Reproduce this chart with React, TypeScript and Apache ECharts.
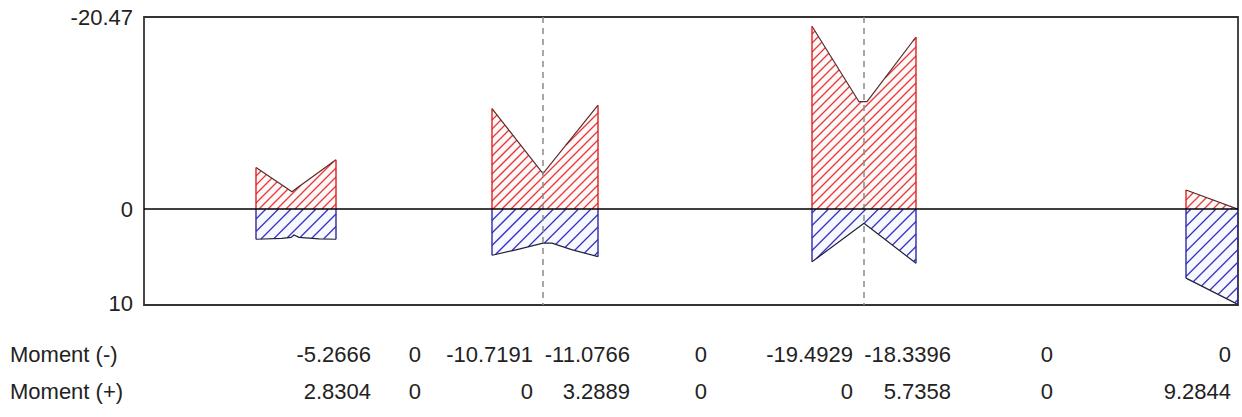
import React, { useEffect, useRef } from 'react';
import * as echarts from 'echarts';

// Axis ranges (beam position units, moment units; axis is inverted: negative up)
const X_MIN = 0;
const X_MAX = 21.88;
const Y_MIN = -20.47;
const Y_MAX = 10.2;
const yTickValues = [-20.47, 0, 10];

// Internal supports (dashed lines)
const supportPositions = [7.98, 14.4];

// Negative moment envelopes [position, moment]
const seg1Neg = [[2.24, -4.45], [2.96, -1.85], [3.06, -2.25], [3.84, -5.27]];
const seg2Neg = [[6.96, -10.72], [7.98, -3.8], [9.08, -11.08]];
const seg3Neg = [[13.36, -19.49], [14.3, -11.45], [14.46, -11.45], [15.44, -18.34]];
const seg4Neg = [[20.84, -2.05], [21.88, 0]];

// Positive moment envelopes [position, moment]
const seg1Pos = [[2.24, 3.2], [2.76, 3.1], [2.94, 3.0], [3.0, 2.75], [3.1, 3.0], [3.5, 3.15], [3.84, 3.2]];
const seg2Pos = [[6.96, 4.9], [7.46, 4.3], [7.98, 3.62], [8.16, 3.62], [8.55, 4.3], [9.08, 5.05]];
const seg3Pos = [[13.36, 5.6], [14.4, 1.5], [15.44, 5.75]];
const seg4Pos = [[20.84, 7.34], [21.88, 10.15]];

const negativeEnvelopes = [seg1Neg, seg2Neg, seg3Neg, seg4Neg];
const positiveEnvelopes = [seg1Pos, seg2Pos, seg3Pos, seg4Pos];

// Table
const tableRowLabels = ['Moment (-)', 'Moment (+)'];
const momentNegRow = ['-5.2666', '0', '-10.7191', '-11.0766', '0', '-19.4929', '-18.3396', '0', '0'];
const momentPosRow = ['2.8304', '0', '0', '3.2889', '0', '0', '5.7358', '0', '9.2844'];

// Layout (pixels)
const tableColRight = [371, 421, 533, 630, 707, 853, 951, 1053, 1231];
const tableRowY = [354, 391];
const FONT = '"Liberation Sans", Arial, sans-serif';
const FONT_SIZE = 22;

function makeRenderItem(envelopes: number[][][], lineColor: string, edgeColor: string, outlineColor: string, tint: string, spacing: number) {
  return (params: any, api: any) => {
    const env = envelopes[params.dataIndex];
    const pts = env.map((p) => api.coord([p[0], p[1]]));
    const zeroY = api.coord([env[0][0], 0])[1];
    const x0 = pts[0][0];
    const x1 = pts[pts.length - 1][0];
    const f = (x: number) => {
      for (let i = 0; i < pts.length - 1; i++) {
        const a = pts[i], b = pts[i + 1];
        if (x >= a[0] && x <= b[0]) {
          const t = b[0] === a[0] ? 0 : (x - a[0]) / (b[0] - a[0]);
          return a[1] + t * (b[1] - a[1]);
        }
      }
      return pts[pts.length - 1][1];
    };
    const children: any[] = [];
    const poly = [[x0, zeroY], ...pts, [x1, zeroY]];
    children.push({ type: 'polygon', shape: { points: poly }, style: { fill: tint, stroke: 'none' } });
    let yMin = zeroY, yMax = zeroY;
    pts.forEach((p) => { yMin = Math.min(yMin, p[1]); yMax = Math.max(yMax, p[1]); });
    const cStart = Math.floor((x0 + yMin) / spacing) * spacing;
    const cEnd = x1 + yMax;
    const step = 0.25;
    const push = (a: number, b: number, c: number) => {
      if (b - a > 0.5) children.push({ type: 'line', shape: { x1: a, y1: c - a, x2: b, y2: c - b }, style: { stroke: lineColor, lineWidth: 1.3 } });
    };
    for (let c = cStart; c <= cEnd; c += spacing) {
      let runStart: number | null = null;
      let last = 0;
      for (let x = x0; x <= x1 + 1e-6; x += step) {
        const y = c - x;
        const fy = f(x);
        const lo = Math.min(fy, zeroY), hi = Math.max(fy, zeroY);
        const inside = y >= lo && y <= hi;
        if (inside) {
          if (runStart === null) runStart = x;
          last = x;
        } else if (runStart !== null) {
          push(runStart, last, c);
          runStart = null;
        }
      }
      if (runStart !== null) push(runStart, last, c);
    }
    children.push({ type: 'polyline', shape: { points: pts }, style: { stroke: outlineColor, lineWidth: 1.2, fill: 'none' } });
    children.push({ type: 'line', shape: { x1: x0, y1: zeroY, x2: x0, y2: pts[0][1] }, style: { stroke: edgeColor, lineWidth: 1.4 } });
    children.push({ type: 'line', shape: { x1: x1, y1: zeroY, x2: x1, y2: pts[pts.length - 1][1] }, style: { stroke: edgeColor, lineWidth: 1.4 } });
    return { type: 'group', children };
  };
}

export default function App() {
  const ref = useRef<HTMLDivElement>(null);
  useEffect(() => {
    if (!ref.current) return;
    const chart = echarts.init(ref.current, null, { renderer: 'svg' });
    const graphics: any[] = [];
    tableRowLabels.forEach((label, r) => {
      graphics.push({ type: 'text', x: 10, y: tableRowY[r], style: { text: label, fill: '#222', font: `${FONT_SIZE}px ${FONT}`, align: 'left', verticalAlign: 'middle' } });
    });
    [momentNegRow, momentPosRow].forEach((row, r) => {
      row.forEach((v, c) => {
        graphics.push({ type: 'text', x: tableColRight[c], y: tableRowY[r], style: { text: v, fill: '#222', font: `${FONT_SIZE}px ${FONT}`, align: 'right', verticalAlign: 'middle' } });
      });
    });
    chart.setOption({
      animation: false,
      backgroundColor: '#fff',
      textStyle: { fontFamily: FONT },
      grid: { left: 144, top: 17, right: 4, bottom: 112, show: true, borderColor: '#333', borderWidth: 1.8, backgroundColor: '#fff' },
      xAxis: { type: 'value', min: X_MIN, max: X_MAX, show: false, splitLine: { show: false } },
      yAxis: {
        type: 'value', inverse: true, min: Y_MIN, max: Y_MAX,
        axisLine: { show: false }, axisTick: { show: false }, splitLine: { show: false },
        axisLabel: { customValues: yTickValues, formatter: (v: number) => String(v), color: '#222', fontSize: FONT_SIZE, fontFamily: FONT, margin: 11 },
      },
      graphic: graphics,
      series: [
        { type: 'custom', name: 'Moment (-)', clip: true, data: negativeEnvelopes.map((_, i) => [i]), renderItem: makeRenderItem(negativeEnvelopes, '#e23a3a', '#e02020', '#5a2a2a', 'rgba(255,200,200,0.12)', 9), z: 2 },
        { type: 'custom', name: 'Moment (+)', clip: true, data: positiveEnvelopes.map((_, i) => [i]), renderItem: makeRenderItem(positiveEnvelopes, '#3434c4', '#2a2aa8', '#20203a', 'rgba(200,200,255,0.12)', 12.5), z: 2 },
        {
          type: 'line', data: [], z: 5, silent: true,
          markLine: {
            silent: true, symbol: 'none', label: { show: false },
            data: [
              ...supportPositions.map((x) => ({ xAxis: x, lineStyle: { color: '#8a8a8a', type: [6, 5], width: 1.5 } })),
              { yAxis: 0, lineStyle: { color: '#000', type: 'solid', width: 1.5 } },
            ],
          },
        },
      ],
    });
    return () => chart.dispose();
  }, []);
  return <div ref={ref} style={{ position: 'fixed', left: 0, top: 0, width: 1242, height: 417 }} />;
}
